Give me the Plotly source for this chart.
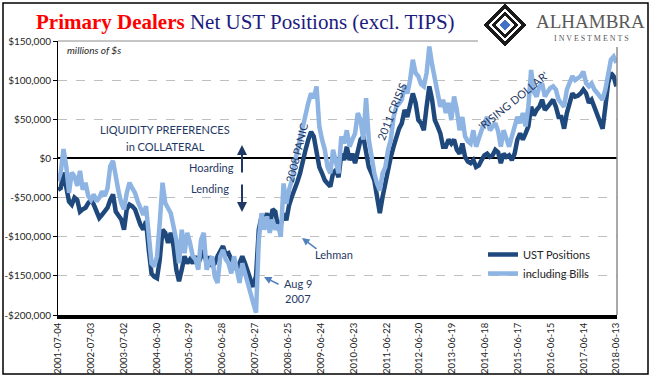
import plotly.graph_objects as go
import pandas as pd

# ---------------- data (values in thousands of $ millions) ----------------
start_date = "2001-07-04"
end_date = "2018-06-13"
n_points = 204

ust_positions = [
    -40, -38, -18, -38, -55, -59, -50, -53, -68, -65, -63, -57, -53, -59, -68, -76,
    -72, -68, -63, -53, -46, -68, -72, -78, -91, -65, -59, -61, -65, -76, -85, -91,
    -80, -117, -147, -151, -153, -129, -91, -95, -108, -95, -112, -142, -157, -142, -125, -134,
    -129, -134, -125, -134, -125, -117, -134, -125, -138, -134, -125, -117, -112, -123, -121, -129,
    -134, -142, -134, -125, -134, -147, -155, -164, -150, -91, -74, -82, -70, -87, -65, -68,
    -88, -85, -70, -79, -60, -49, -41, -30, -19, -2, 11, 24, 34, 28, 11, -11,
    -19, -28, -32, -36, -19, -15, -24, 6, -2, 15, -2, 6, -6, 11, 24, 28,
    11, -11, -19, -28, -49, -70, -49, -32, -11, 2, 15, 28, 38, 45, 62, 53,
    66, 83, 71, 49, 45, 36, 66, 92, 75, 49, 41, 32, 15, 15, 24, 19,
    24, 11, 6, 19, 2, -4, -6, -2, -11, -9, -2, 4, 6, 2, 4, 11,
    8, -6, 6, 2, 4, -2, 6, 24, 32, 24, 32, 41, 66, 55, 62, 66,
    75, 62, 66, 70, 75, 66, 53, 53, 38, 58, 71, 83, 79, 80, 83, 88,
    83, 71, 75, 66, 58, 49, 38, 66, 96, 109, 105, 92,
]

including_bills = [
    -29, -18, 12, -10, -44, -18, -23, -35, -16, -40, -31, -48, -53, -46, -55, -50,
    -42, -48, -38, -10, -3, -27, -42, -57, -65, -44, -31, -38, -44, -55, -65, -72,
    -61, -104, -134, -138, -125, -82, -31, -57, -65, -70, -87, -104, -134, -91, -121, -95,
    -108, -125, -129, -142, -104, -95, -142, -134, -125, -151, -159, -125, -117, -129, -134, -147,
    -125, -142, -159, -134, -147, -164, -172, -185, -197, -104, -70, -91, -74, -95, -78, -91,
    -85, -100, -32, -58, -40, -28, -6, 10, 24, 36, 53, 71, 83, 77, 92, 41,
    24, 11, -11, -19, 11, -2, -19, 28, 19, 36, 15, 24, 32, 58, 49, 24,
    77, 24, -2, -19, -32, -41, -19, -11, 11, 24, 53, 66, 70, 75, 92, 83,
    100, 126, 109, 105, 95, 92, 109, 143, 120, 100, 79, 66, 75, 58, 71, 49,
    79, 62, 36, 53, 28, 22, 19, 36, 15, 28, 36, 45, 53, 36, 40, 45,
    35, 15, 36, 24, 15, 28, 41, 53, 45, 58, 41, 66, 113, 85, 79, 92,
    96, 79, 85, 90, 92, 88, 75, 71, 66, 88, 96, 105, 100, 103, 105, 111,
    96, 92, 96, 88, 83, 79, 75, 88, 109, 126, 130, 122,
]

tick_labels = [
    "2001-07-04", "2002-07-03", "2003-07-02", "2004-06-30", "2005-06-29", "2006-06-28",
    "2007-06-27", "2008-06-25", "2009-06-24", "2010-06-23", "2011-06-22", "2012-06-20",
    "2013-06-19", "2014-06-18", "2015-06-17", "2016-06-15", "2017-06-14", "2018-06-13",
]

y_ticks = [150000, 100000, 50000, 0, -50000, -100000, -150000, -200000]
y_tick_labels = ["$150,000", "$100,000", "$50,000", "$0", "-$50,000", "-$100,000", "-$150,000", "-$200,000"]

dates = pd.date_range(start_date, end_date, periods=n_points)
ust_vals = [v * 1000 for v in ust_positions]
bills_vals = [v * 1000 for v in including_bills]

# ---------------- styling ----------------
W, H = 652, 381
L, R, T, B = 58, 617, 41, 315
DARK = "#1F497D"
LIGHT = "#8DB4E2"
NAVY = "#1F3864"
ARROW = "#4F81BD"
FONT = "Lato"


def px(x):
    return (x - L) / (R - L)


def py(y):
    return (B - y) / (B - T)


fig = go.Figure()
fig.add_trace(go.Scatter(x=dates, y=ust_vals, name="UST Positions", mode="lines",
                         line=dict(color=DARK, width=4.5)))
fig.add_trace(go.Scatter(x=dates, y=bills_vals, name="including Bills", mode="lines",
                         line=dict(color=LIGHT, width=4.5)))

annotations = []


def text(x, y, s, size=11, color=NAVY, angle=0, xanchor="center", family=FONT):
    annotations.append(dict(x=px(x), y=py(y), xref="paper", yref="paper", text=s,
                            showarrow=False, textangle=angle, xanchor=xanchor, yanchor="middle",
                            font=dict(family=family, size=size, color=color)))


def arrow(hx, hy, tx, ty, color, width, head=2, size=1):
    annotations.append(dict(x=px(hx), y=py(hy), xref="paper", yref="paper", text="",
                            showarrow=True, ax=tx - hx, ay=ty - hy, axref="pixel", ayref="pixel",
                            arrowhead=head, arrowsize=size, arrowwidth=width, arrowcolor=color))


# title
annotations.append(dict(
    x=px(245), y=py(22), xref="paper", yref="paper", showarrow=False, xanchor="center", yanchor="middle",
    text='<b><span style="color:#FF0000">Primary Dealers</span></b> '
         '<span style="color:#1C1C80">Net UST Positions (excl. TIPS)</span>',
    font=dict(family="Liberation Serif", size=21)))

text(65, 50, "<i>millions of $s</i>", size=10, color="#262626", xanchor="left")
text(165, 129, "LIQUIDITY PREFERENCES", size=11)
text(165, 146, "in COLLATERAL", size=11)
text(212, 167, "Hoarding", size=11)
text(210, 188, "Lending", size=11)
arrow(242, 145, 242, 174, NAVY, 2)
arrow(242, 212, 242, 183, NAVY, 2)
text(296, 153, "2008 PANIC", size=11, angle=-76)
text(392, 112, "2011 CRISIS", size=11, angle=-68)
text(513, 100, "'RISING DOLLAR'", size=11, angle=-39)
text(334, 254, "Lehman", size=11)
arrow(302, 238, 318, 250, ARROW, 1.5)
text(298, 283, "Aug 9", size=11)
text(298, 298, "2007", size=11)
arrow(264, 277, 280, 285, ARROW, 1.5)

# logo text
text(590, 21, "ALHAMBRA", size=19, color="#595959", family="Liberation Serif")
text(591, 39, "I N V E S T M E N T S", size=8, color="#595959", family="Liberation Serif")

shapes = [
    # top & right plot frame
    dict(type="line", xref="paper", yref="paper", x0=0, x1=1, y0=1, y1=1,
         line=dict(color="#8C8C8C", width=1), layer="above"),
    dict(type="line", xref="paper", yref="paper", x0=1, x1=1, y0=0, y1=1,
         line=dict(color="#8C8C8C", width=1.5), layer="above"),
    # logo background
    dict(type="rect", xref="paper", yref="paper", x0=px(478), x1=px(646), y0=py(47), y1=py(4),
         fillcolor="white", line=dict(width=0), layer="above"),
    # outer border
    dict(type="rect", xref="paper", yref="paper", x0=px(3), x1=px(648), y0=py(374), y1=py(3),
         line=dict(color="black", width=1.5), layer="above"),
]

# logo diamond
cx, cy, r = 505, 25, 21


def diamond(cx, cy, r, fill, line_color, lw):
    pts = [(cx, cy - r), (cx + r, cy), (cx, cy + r), (cx - r, cy)]
    path = "M " + " L ".join(f"{px(x)},{py(y)}" for x, y in pts) + " Z"
    return dict(type="path", xref="paper", yref="paper", path=path, fillcolor=fill,
                line=dict(color=line_color, width=lw), layer="above")


shapes.append(diamond(cx, cy, r, "#1A1A1A", "#1A1A1A", 1))
shapes.append(diamond(cx, cy, r - 5, "white", "white", 1))
shapes.append(diamond(cx, cy, r - 8, "#1A1A1A", "#1A1A1A", 1))
shapes.append(diamond(cx, cy, r - 12, "white", "white", 1))
shapes.append(diamond(cx, cy, 5, "#4472C4", "#4472C4", 1))

fig.update_layout(
    width=W, height=H,
    margin=dict(l=L, r=W - R, t=T, b=H - B, autoexpand=False),
    paper_bgcolor="white", plot_bgcolor="white",
    showlegend=True,
    legend=dict(x=px(483), y=py(240), xanchor="left", yanchor="top",
                font=dict(family=FONT, size=11, color="#262626"),
                bgcolor="rgba(0,0,0,0)", tracegroupgap=0, itemwidth=30),
    xaxis=dict(range=[pd.Timestamp(start_date), pd.Timestamp("2018-06-20")],
               tickvals=[pd.Timestamp(t) for t in tick_labels], ticktext=tick_labels,
               tickangle=-90, showgrid=False, zeroline=False, automargin=False,
               showline=True, linecolor="black", linewidth=4, ticks="",
               tickfont=dict(family=FONT, size=9.5, color="#262626")),
    yaxis=dict(range=[-200000, 150000], tickvals=y_ticks, ticktext=y_tick_labels,
               showgrid=True, gridcolor="#BFBFBF", griddash="dash", gridwidth=1,
               zeroline=True, zerolinecolor="black", zerolinewidth=1.5, automargin=False,
               showline=True, linecolor="black", linewidth=1,
               ticks="outside", ticklen=4, tickcolor="black",
               tickfont=dict(family=FONT, size=10, color="#262626")),
    annotations=annotations,
    shapes=shapes,
)

fig.write_html("out.html", config={"displayModeBar": False},
               post_script="document.body.style.margin='0px';")
